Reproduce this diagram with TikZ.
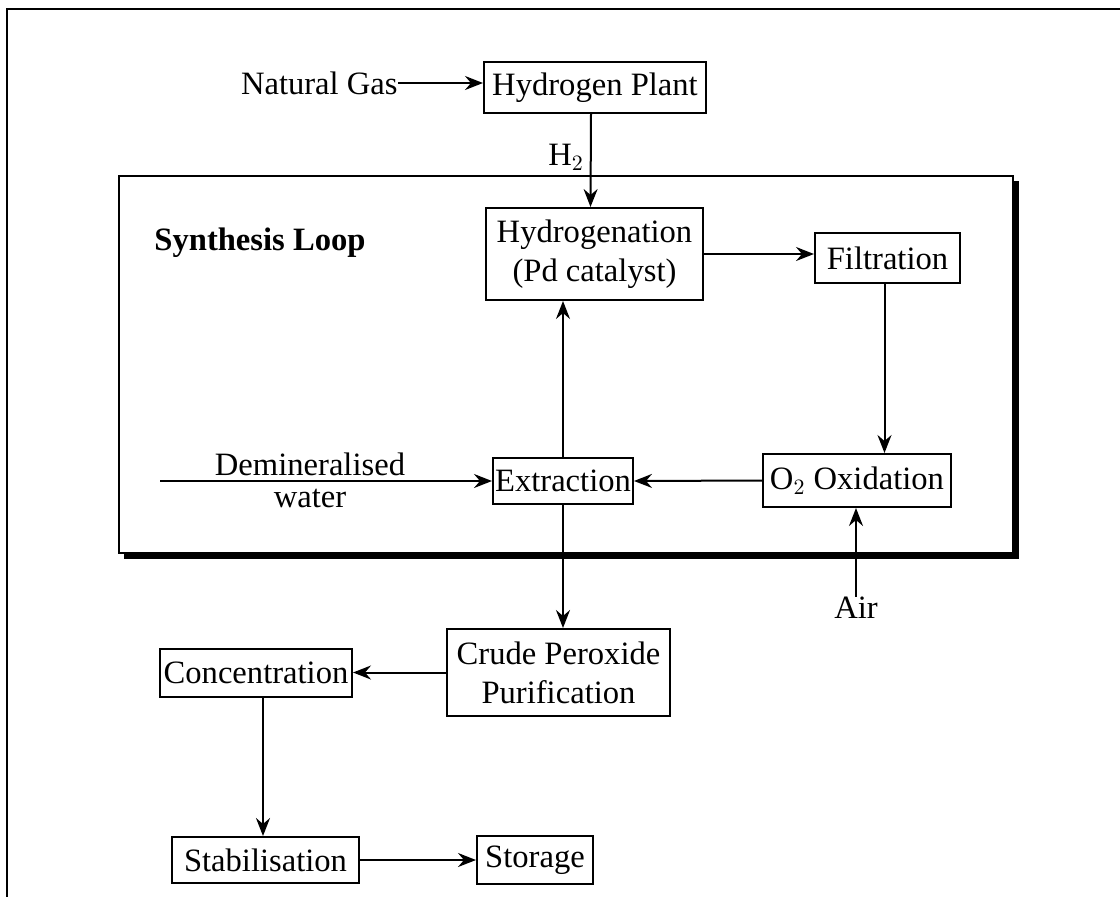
\documentclass[tikz,border=0pt]{standalone}
\usepackage{fontspec}
\setmainfont{Liberation Serif}
\usetikzlibrary{arrows.meta,calc}
\begin{document}
\begin{tikzpicture}[x=0.5pt,y=-0.5pt,
  every node/.style={font=\fontsize{16.3pt}{19.5pt}\selectfont},
  box/.style={draw,line width=1pt,inner sep=0pt,align=center},
  arr/.style={line width=1pt,-{Stealth[length=9pt,width=7pt,inset=3pt]}},
  plain/.style={line width=1pt}]
\useasboundingbox (0,0) rectangle (1120,896);
% page frame, running off the right and bottom edges
\draw[line width=1.4pt] (7,900) -- (7,9) -- (1124,9);

% synthesis loop enclosure with drop shadow
\fill[black] (124,181) rectangle (1019,559);
\draw[plain,fill=white] (119,176) rectangle (1013,553);
\node[font=\fontsize{16.3pt}{19.5pt}\selectfont\bfseries] (loop) at (260,243) {Synthesis Loop};

% process units
\node[box,minimum width=111pt,minimum height=25.5pt] (hplant) at (595,87.5) {Hydrogen Plant};
\node[box,minimum width=108.5pt,minimum height=46pt] (hydro) at (594.5,254) {Hydrogenation\\(Pd catalyst)};
\node[box,minimum width=72.5pt,minimum height=25pt] (filt) at (887.5,258) {Filtration};
\node[box,minimum width=94pt,minimum height=26.5pt] (oxid) at (857,480.5) {O$_2$ Oxidation};
\node[box,minimum width=70pt,minimum height=23pt] (extr) at (563,481) {Extraction};
\node[box,minimum width=111.5pt,minimum height=43.5pt] (crude) at (558.5,672.5) {Crude Peroxide\\Purification};
\node[box,minimum width=96pt,minimum height=24pt] (conc) at (256,673) {Concentration};
\node[box,minimum width=93.5pt,minimum height=23pt] (stab) at (265.5,860) {Stabilisation};
\node[box,minimum width=58pt,minimum height=24pt] (stor) at (535,860) {Storage};

% feeds
\node[inner sep=0pt,anchor=east] (ng) at (398,83) {Natural Gas};
\node[inner sep=0pt] (air) at (856,608) {Air};
\coordinate (dw) at (160,481);
\node[inner sep=0pt,anchor=base] (dwtop) at (310,475) {Demineralised};
\node[inner sep=0pt,anchor=base] (dwbot) at (310,507) {water};
\node (h2) at (566,157) {H$_2$};

% connections
\draw[arr] (ng.east) -- (ng.east -| hplant.west);
\draw[arr] ([xshift=-2pt]hplant.south) -- ([xshift=-2pt]hydro.north);
\draw[arr] (hydro.east) -- (hydro.east -| filt.west);
\draw[arr] ([xshift=-1.5pt]filt.south) -- ([xshift=-1.5pt]filt.south |- oxid.north);
\draw[arr] (oxid.west) -- (extr.east);
\draw[arr] (dw) -- (extr.west);
\draw[arr] (extr.north) -- (extr.north |- hydro.south);
\draw[arr] (air.north) -- (air.north |- oxid.south);
\draw[arr] (extr.south) -- (extr.south |- crude.north);
\draw[arr] (crude.west) -- (crude.west -| conc.east);
\draw[arr] ([xshift=3.5pt]conc.south) -- ([xshift=3.5pt]conc.south |- stab.north);
\draw[arr] (stab.east) -- (stab.east -| stor.west);
\end{tikzpicture}
\end{document}
